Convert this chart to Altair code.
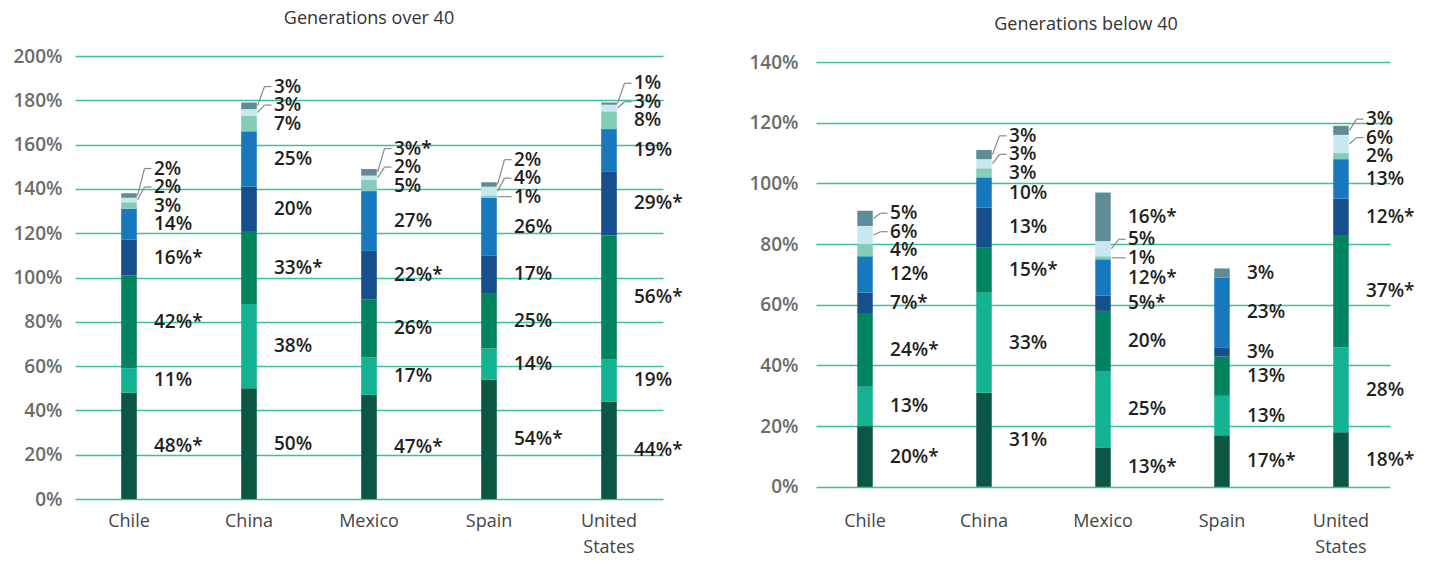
import altair as alt
import pandas as pd

FONT = "Open Sans"

CATEGORIES = ["Chile", "China", "Mexico", "Spain", "United States"]

# segment colours, bottom -> top
SEG_COLORS = ["#0b5644", "#12b293", "#00845f", "#174e8c", "#1878be",
              "#83cdb8", "#c8e7ef", "#5f8b97"]

# ---- Generations over 40 (segment values, bottom -> top) ----
over40_chile = [48, 11, 42, 16, 14, 3, 2, 2]
over40_china = [50, 38, 33, 20, 25, 7, 3, 3]
over40_mexico = [47, 17, 26, 22, 27, 5, 2, 3]
over40_spain = [54, 14, 25, 17, 26, 1, 4, 2]
over40_us = [44, 19, 56, 29, 19, 8, 3, 1]

over40_chile_star = [1, 0, 1, 1, 0, 0, 0, 0]
over40_china_star = [0, 0, 1, 0, 0, 0, 0, 0]
over40_mexico_star = [1, 0, 0, 1, 0, 0, 0, 1]
over40_spain_star = [1, 0, 0, 0, 0, 0, 0, 0]
over40_us_star = [1, 0, 1, 1, 0, 0, 0, 0]

# ---- Generations below 40 ----
below40_chile = [20, 13, 24, 7, 12, 4, 6, 5]
below40_china = [31, 33, 15, 13, 10, 3, 3, 3]
below40_mexico = [13, 25, 20, 5, 12, 1, 5, 16]
below40_spain = [17, 13, 13, 3, 23, 0, 0, 3]
below40_us = [18, 28, 37, 12, 13, 2, 6, 3]

below40_chile_star = [1, 0, 1, 1, 0, 0, 0, 0]
below40_china_star = [0, 0, 1, 0, 0, 0, 0, 0]
below40_mexico_star = [1, 0, 0, 1, 1, 0, 0, 1]
below40_spain_star = [1, 0, 0, 0, 0, 0, 0, 0]
below40_us_star = [1, 0, 1, 1, 0, 0, 0, 0]

OVER40_TICKS = [0, 20, 40, 60, 80, 100, 120, 140, 160, 180, 200]
BELOW40_TICKS = [0, 20, 40, 60, 80, 100, 120, 140]

GRID_COLOR = "#3dbfa2"
HEIGHT = 443


def build_frame(values, stars, px_per_unit):
    gap = 18.5 / px_per_unit
    rows = []
    for cat, vals, st in zip(CATEGORIES, values, stars):
        y0 = 0
        prev = None
        for i, (v, s) in enumerate(zip(vals, st)):
            y1 = y0 + v
            if v > 0:
                mid = (y0 + y1) / 2
                ly = mid if prev is None else max(mid, prev + gap)
                prev = ly
                lead = (ly - mid) * px_per_unit > 3 or v * px_per_unit < 5
                rows.append(dict(cat=cat, seg=i, y0=y0, y1=y1, mid=mid, ly=ly,
                                 label=f"{v}%" + ("*" if s else ""), lead=lead))
            y0 = y1
    return pd.DataFrame(rows)


def panel(values, stars, domain, ticks, width, pad_outer, title, title_dx, ylab_pad):
    px_per_unit = HEIGHT / (domain[1] - domain[0])
    df = build_frame(values, stars, px_per_unit)
    xscale = alt.Scale(domain=CATEGORIES, paddingInner=0.87, paddingOuter=pad_outer)
    yscale = alt.Scale(domain=domain, nice=False, zero=False)

    x_axis = alt.Axis(title=None, labelAngle=0, ticks=False, domain=False,
                      labelExpr="split(datum.label, ' ')", labelFont=FONT,
                      labelFontSize=18, labelColor="#444444", labelPadding=13,
                      labelLineHeight=26, labelBaseline="top")
    y_axis = alt.Axis(title=None, values=ticks, labelExpr="datum.value + '%'",
                      ticks=False, domain=False, grid=True, gridColor=GRID_COLOR,
                      gridWidth=1.5, labelFont=FONT, labelFontSize=19,
                      labelFontWeight=600, labelColor="#6b6b6b", labelPadding=ylab_pad)

    X = alt.X("cat:N", sort=CATEGORIES, scale=xscale, axis=x_axis, bandPosition=0.5)

    base = alt.Chart(df)
    bars = base.mark_bar().encode(
        x=alt.X("cat:N", sort=CATEGORIES, scale=xscale, axis=x_axis),
        y=alt.Y("y0:Q", scale=yscale, axis=y_axis),
        y2="y1:Q",
        color=alt.Color("seg:N", scale=alt.Scale(domain=list(range(8)), range=SEG_COLORS),
                        legend=None),
    )
    texts = base.mark_text(align="left", baseline="middle", dx=25, font=FONT,
                           fontSize=19, fontWeight=600, color="#231f20").encode(
        x=X,
        y=alt.Y("ly:Q", scale=yscale, axis=y_axis),
        text="label:N",
    )
    lead_df = base.transform_filter("datum.lead")
    diag = lead_df.mark_rule(xOffset=8.5, x2Offset=15.5, color="#8a8a8a",
                             strokeWidth=1.2).encode(
        x=X,
        x2=alt.X2("cat", bandPosition=0.5),
        y=alt.Y("mid:Q", scale=yscale, axis=y_axis),
        y2="ly:Q",
    )
    horiz = lead_df.mark_rule(xOffset=15.5, x2Offset=22.5, color="#8a8a8a",
                              strokeWidth=1.2).encode(
        x=X,
        x2=alt.X2("cat", bandPosition=0.5),
        y=alt.Y("ly:Q", scale=yscale, axis=y_axis),
    )
    return alt.layer(bars, diag, horiz, texts).properties(
        width=width, height=HEIGHT,
        title=alt.TitleParams(title, dx=title_dx),
    )


left = panel(
    [over40_chile, over40_china, over40_mexico, over40_spain, over40_us],
    [over40_chile_star, over40_china_star, over40_mexico_star, over40_spain_star, over40_us_star],
    [0, 200], OVER40_TICKS, 588, 0.385, "Generations over 40", 0, 13,
)
right = panel(
    [below40_chile, below40_china, below40_mexico, below40_spain, below40_us],
    [below40_chile_star, below40_china_star, below40_mexico_star, below40_spain_star, below40_us_star],
    [-4, 142], BELOW40_TICKS, 574, 0.347, "Generations below 40", -17, 18,
)

chart = alt.hconcat(left, right, spacing=65).properties(
    padding={"left": 4, "top": 2, "right": 0, "bottom": 0}
).configure_view(stroke=None).configure_title(
    font=FONT, fontSize=18, fontWeight="normal", color="#333333",
    anchor="middle", frame="group", offset=19,
)

chart.save("out.html", embed_options={"renderer": "svg", "actions": False})
